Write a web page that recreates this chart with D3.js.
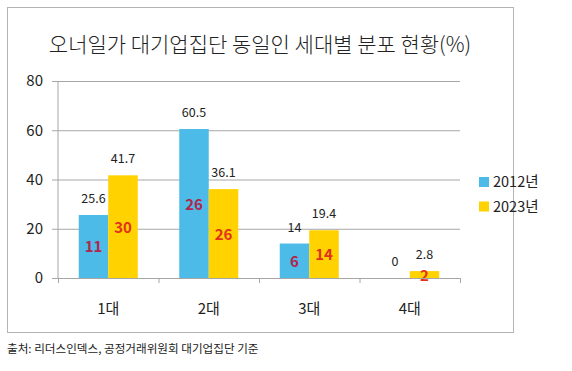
<!DOCTYPE html>
<html>
<head>
<meta charset="utf-8">
<script src="https://cdn.jsdelivr.net/npm/d3@7"></script>
<style>
  body { margin: 0; background: #fff; }
  svg text { font-family: "Noto Sans CJK KR", "Noto Sans", sans-serif; }
</style>
</head>
<body>
<div class="chart"></div>
<script>
const categories = ["1대", "2대", "3대", "4대"];
const seriesNames = ["2012년", "2023년"];
const values2012 = [25.6, 60.5, 14, 0];
const values2023 = [41.7, 36.1, 19.4, 2.8];
const counts2012 = [11, 26, 6, null];
const counts2023 = [30, 26, 14, 2];
const yTicks = [0, 20, 40, 60, 80];

const w = 572, h = 371;
const plotL = 58, plotR = 460, plotT = 81, plotB = 278;
const colors = ["#4cbbe7", "#ffd200"];
const countColors = ["#b3264c", "#e2321c"];

let svg = d3.select(".chart").append("svg")
  .attr("width", w).attr("height", h);

// outer frame
svg.append("rect")
  .attr("x", 7.5).attr("y", 7.5).attr("width", 506).attr("height", 325)
  .attr("fill", "#fff").attr("stroke", "#b4b4b4");

svg.append("text")
  .text("오너일가 대기업집단 동일인 세대별 분포 현황(%)")
  .attr("x", 260).attr("y", 52)
  .attr("text-anchor", "middle")
  .attr("font-size", 21)
  .attr("font-weight", 300)
  .attr("fill", "#222");

let y = d3.scaleLinear().domain([0, 80]).range([plotB, plotT]);
let x0 = d3.scaleBand().domain(categories).range([plotL, plotR])
  .paddingInner(0.413).paddingOuter(0.2065);
let x1 = d3.scaleBand().domain(seriesNames).range([0, x0.bandwidth()]);

// gridlines + y labels
let yAxis = d3.axisLeft(y).tickValues(yTicks).tickSize(plotR - plotL + 6).tickPadding(9);
let gy = svg.append("g").attr("transform", "translate(" + plotR + ",0)").call(yAxis);
gy.select(".domain").remove();
gy.selectAll("line").attr("stroke", "#a6a6a6");
gy.selectAll("text").attr("font-size", 15).attr("fill", "#222")
  .attr("font-family", "Noto Sans, sans-serif");

// left axis line
svg.append("line").attr("x1", plotL).attr("x2", plotL)
  .attr("y1", y(80)).attr("y2", plotB).attr("stroke", "#a6a6a6");

// bars
let rows = categories.map((c, i) => ({
  cat: c,
  bars: [
    { s: seriesNames[0], v: values2012[i], n: counts2012[i], k: 0 },
    { s: seriesNames[1], v: values2023[i], n: counts2023[i], k: 1 }
  ]
}));

let groups = svg.selectAll(".grp").data(rows).enter().append("g")
  .attr("class", "grp")
  .attr("transform", d => "translate(" + x0(d.cat) + ",0)");

groups.selectAll("rect").data(d => d.bars).enter().append("rect")
  .attr("x", d => x1(d.s))
  .attr("y", d => y(d.v))
  .attr("width", x1.bandwidth())
  .attr("height", d => plotB - y(d.v))
  .attr("fill", d => colors[d.k]);

groups.selectAll(".val").data(d => d.bars).enter().append("text")
  .attr("class", "val")
  .attr("x", d => x1(d.s) + x1.bandwidth() / 2)
  .attr("y", d => y(d.v) - 12)
  .attr("text-anchor", "middle")
  .attr("font-size", 12.5)
  .attr("fill", "#222")
  .text(d => d.v);

groups.selectAll(".cnt").data(d => d.bars.filter(b => b.n !== null)).enter().append("text")
  .attr("class", "cnt")
  .attr("x", d => x1(d.s) + x1.bandwidth() / 2)
  .attr("y", d => (y(d.v) + plotB) / 2 + 6)
  .attr("text-anchor", "middle")
  .attr("font-size", 15)
  .attr("font-weight", "bold")
  .attr("fill", d => countColors[d.k])
  .text(d => d.n);

// x axis
let xAxis = d3.axisBottom(d3.scaleLinear().domain([0, 4]).range([plotL, plotR]))
  .tickValues([0, 1, 2, 3, 4]).tickSize(5).tickFormat("");
let gx = svg.append("g").attr("transform", "translate(0," + plotB + ")").call(xAxis);
gx.selectAll("path, line").attr("stroke", "#a6a6a6");

svg.selectAll(".xlab").data(categories).enter().append("text")
  .attr("class", "xlab")
  .attr("x", d => x0(d) + x0.bandwidth() / 2)
  .attr("y", 314)
  .attr("text-anchor", "middle")
  .attr("font-size", 15)
  .attr("fill", "#222")
  .text(d => d);

// legend
let legend = svg.append("g");
seriesNames.forEach((s, i) => {
  legend.append("rect")
    .attr("x", 479).attr("y", 177 + i * 24.5)
    .attr("width", 10).attr("height", 10)
    .attr("fill", colors[i]);
  legend.append("text")
    .attr("x", 493).attr("y", 187 + i * 24.5)
    .attr("font-size", 14.5)
    .attr("fill", "#222")
    .text(s);
});

// source note
svg.append("text")
  .attr("x", 7).attr("y", 353)
  .attr("font-size", 11.6)
  .attr("fill", "#222")
  .text("출처: 리더스인덱스, 공정거래위원회 대기업집단 기준");
</script>
</body>
</html>
